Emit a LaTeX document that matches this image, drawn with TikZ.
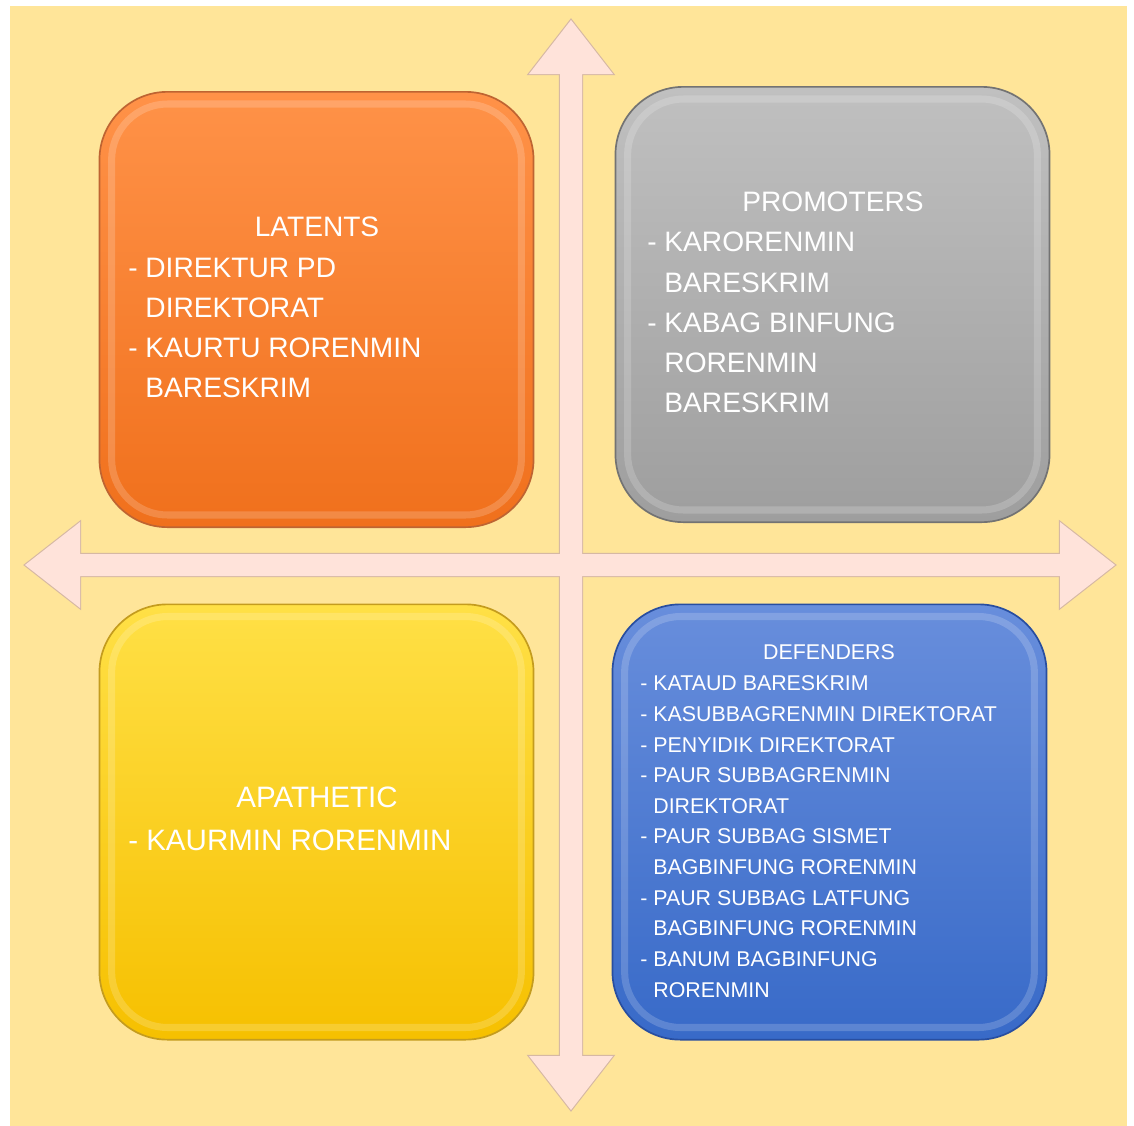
\documentclass[tikz,border=0pt]{standalone}
\usepackage{fontspec}
\setmainfont{Liberation Sans}
\usetikzlibrary{positioning, calc}
\definecolor{bgYellow}{RGB}{255,229,153}
\definecolor{arrowFill}{RGB}{255,227,218}
\definecolor{arrowEdge}{RGB}{214,184,164}
\definecolor{orangeTop}{RGB}{255,146,72}
\definecolor{orangeBot}{RGB}{240,112,28}
\definecolor{orangeRim}{RGB}{190,100,50}
\definecolor{grayTop}{RGB}{192,192,192}
\definecolor{grayBot}{RGB}{158,158,158}
\definecolor{grayRim}{RGB}{115,115,115}
\definecolor{yellowTop}{RGB}{255,224,70}
\definecolor{yellowBot}{RGB}{246,192,0}
\definecolor{yellowRim}{RGB}{196,156,30}
\definecolor{blueTop}{RGB}{104,142,220}
\definecolor{blueBot}{RGB}{56,106,200}
\definecolor{blueRim}{RGB}{40,78,160}
\newcommand{\indentpad}{\hphantom{- }}

\begin{document}
\begin{tikzpicture}[
    x=0.025cm, y=-0.025cm,
    quad/.style={rectangle, draw, line width=1.2pt, rounded corners=1.7cm, minimum width=10.85cm, minimum height=10.88cm, inner sep=0pt},
    title/.style={text=white, font=\fontsize{20}{28.5}\selectfont, inner sep=0pt},
    item/.style={text=white, font=\fontsize{20}{28.5}\selectfont, align=left, anchor=north west, inner sep=0pt},
    smalltext/.style={font=\fontsize{15.2}{21.8}\selectfont},
    crossarrow/.style={draw=arrowEdge, line width=1.6pt, line join=miter}
]

% page and background
\fill[white] (0,0) rectangle (1134,1126);
\fill[bgYellow] (10,6) rectangle (1127,1126);

% the cross of double arrows
\draw[crossarrow] (571,20) -- (613,74) -- (582,74) -- (582,1056) -- (613,1056) -- (571,1110) -- (529,1056) -- (560,1056) -- (560,74) -- (529,74) -- cycle;
\draw[crossarrow] (25,565) -- (80,522) -- (80,554) -- (1060,554) -- (1060,522) -- (1115,565) -- (1060,608) -- (1060,576) -- (80,576) -- (80,608) -- cycle;
\fill[arrowFill] (571,20) -- (613,74) -- (582,74) -- (582,1056) -- (613,1056) -- (571,1110) -- (529,1056) -- (560,1056) -- (560,74) -- (529,74) -- cycle;
\fill[arrowFill] (25,565) -- (80,522) -- (80,554) -- (1060,554) -- (1060,522) -- (1115,565) -- (1060,608) -- (1060,576) -- (80,576) -- (80,608) -- cycle;

% quadrants
\node[quad, draw=orangeRim, top color=orangeTop, bottom color=orangeBot] (latents) at (316.5,309.5) {};
\node[quad, draw=grayRim, top color=grayTop, bottom color=grayBot] (promoters) at (832.5,304.5) {};
\node[quad, draw=yellowRim, top color=yellowTop, bottom color=yellowBot] (apathetic) at (316.5,822) {};
\node[quad, draw=blueRim, top color=blueTop, bottom color=blueBot] (defenders) at (829.5,822) {};

\foreach \q in {latents, promoters, apathetic, defenders}
    \draw[white, opacity=0.18, line width=5pt, rounded corners=1.4cm] ($(\q.north west)+(13,13)$) rectangle ($(\q.south east)+(-13,-13)$);

% texts
\node[title] (latentsTitle) at (317,227) {LATENTS};
\node[item] (latentsList) at (128,258) {- DIREKTUR PD\\\indentpad DIREKTORAT\\- KAURTU RORENMIN\\\indentpad BARESKRIM};

\node[title] (promotersTitle) at (833,202) {PROMOTERS};
\node[item] (promotersList) at (647,232) {- KARORENMIN\\\indentpad BARESKRIM\\- KABAG BINFUNG\\\indentpad RORENMIN\\\indentpad BARESKRIM};

\node[title, font=\fontsize{21}{30}\selectfont] (apatheticTitle) at (317,797) {APATHETIC};
\node[item, font=\fontsize{21}{30}\selectfont] (apatheticList) at (128,830) {- KAURMIN RORENMIN};

\node[title, smalltext] (defendersTitle) at (829,652) {DEFENDERS};
\node[item, smalltext] (defendersList) at (640,675.5) {- KATAUD BARESKRIM\\- KASUBBAGRENMIN DIREKTORAT\\- PENYIDIK DIREKTORAT\\- PAUR SUBBAGRENMIN\\\indentpad DIREKTORAT\\- PAUR SUBBAG SISMET\\\indentpad BAGBINFUNG RORENMIN\\- PAUR SUBBAG LATFUNG\\\indentpad BAGBINFUNG RORENMIN\\- BANUM BAGBINFUNG\\\indentpad RORENMIN};

\end{tikzpicture}
\end{document}
